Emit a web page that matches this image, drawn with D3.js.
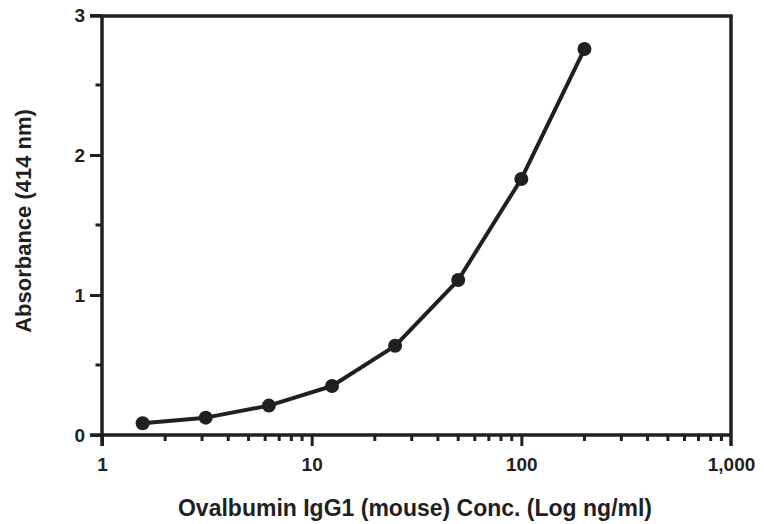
<!DOCTYPE html>
<html><head><meta charset="utf-8">
<script src="https://cdn.jsdelivr.net/npm/d3@7"></script>
<style>body{margin:0;background:#fff}svg{display:block}</style>
</head><body>
<svg id="c" width="764" height="524"></svg>
<script>
const concentrations = [1.5625, 3.125, 6.25, 12.5, 25, 50, 100, 200];
const absorbance = [0.084, 0.124, 0.21, 0.35, 0.637, 1.107, 1.829, 2.757];
const xTickValues = [1, 10, 100, 1000];
const xTickLabels = ["1", "10", "100", "1,000"];
const yTickValues = [0, 1, 2, 3];
const yMinorTicks = [0.5, 1.5, 2.5];
const xLabel = "Ovalbumin IgG1 (mouse) Conc. (Log ng/ml)";
const yLabel = "Absorbance (414 nm)";

const ink = "#231f20";
const svg = d3.select("#c");
const L = 102, R = 731, T = 15, B = 435;
const x = d3.scaleLog().domain([1, 1000]).range([L, R]);
const y = d3.scaleLinear().domain([0, 3]).range([B, T]);
const font = "'Liberation Sans', Arial, Helvetica, sans-serif";

// minor x ticks
const minorX = [];
for (let d = 1; d < 1000; d *= 10) for (let k = 2; k <= 9; k++) minorX.push(d * k);

const g = svg.append("g");
// frame top & right
g.append("line").attr("x1", L - 12).attr("x2", R + 1.5).attr("y1", T + 1).attr("y2", T + 1)
  .attr("stroke", ink).attr("stroke-width", 3.5);
g.append("line").attr("x1", R).attr("x2", R).attr("y1", T).attr("y2", B + 11)
  .attr("stroke", ink).attr("stroke-width", 3.5);

// x axis
const xAxis = g.append("g").attr("transform", `translate(0,${B})`)
  .call(d3.axisBottom(x).tickValues(xTickValues).tickSize(11)
    .tickFormat((d, i) => xTickLabels[i]).tickPadding(12));
xAxis.selectAll(".tick").filter(d => d === 1000).select("line").remove();
xAxis.append("g").selectAll("line").data(minorX).join("line")
  .attr("x1", d => x(d)).attr("x2", d => x(d)).attr("y1", 0).attr("y2", 6)
  .attr("stroke", ink).attr("stroke-width", 3);

// y axis
const yAxis = g.append("g").attr("transform", `translate(${L},0)`)
  .call(d3.axisLeft(y).tickValues(yTickValues).tickSize(12).tickPadding(5).tickFormat(d3.format("d")));
yAxis.append("g").selectAll("line").data(yMinorTicks).join("line")
  .attr("x1", 0).attr("x2", -6.5).attr("y1", d => y(d)).attr("y2", d => y(d))
  .attr("stroke", ink).attr("stroke-width", 3);

[xAxis, yAxis].forEach(a => {
  a.attr("font-size", 19).attr("font-family", font).attr("font-weight", "bold");
  a.select(".domain").attr("stroke", ink).attr("stroke-width", 3.5);
  a.selectAll(".tick line").attr("stroke", ink).attr("stroke-width", 3);
  a.selectAll(".tick text").attr("fill", ink).style("font-family", font)
    .style("font-size", "19px").style("font-weight", "bold");
});
xAxis.select(".domain").attr("d", `M${L - 12},0H${R}`);
yAxis.select(".domain").attr("d", `M0,${T}V${B + 11}`);

// line
const pts = concentrations.map((c, i) => [c, absorbance[i]]);
g.append("path").datum(pts)
  .attr("fill", "none").attr("stroke", ink).attr("stroke-width", 4).attr("stroke-linejoin", "round")
  .attr("d", d3.line().x(d => x(d[0])).y(d => y(d[1])));
g.append("g").selectAll("circle").data(pts).join("circle")
  .attr("cx", d => x(d[0])).attr("cy", d => y(d[1])).attr("r", 7).attr("fill", ink);

// labels
svg.append("text").attr("x", 415).attr("y", 516).attr("text-anchor", "middle")
  .style("font-family", font).style("font-size", "23px").style("font-weight", "bold")
  .attr("fill", ink).text(xLabel);
svg.append("text").attr("transform", "translate(31,221) rotate(-90)").attr("text-anchor", "middle")
  .style("font-family", font).style("font-size", "22px").style("font-weight", "bold")
  .attr("fill", ink).text(yLabel);
</script>
</body></html>
